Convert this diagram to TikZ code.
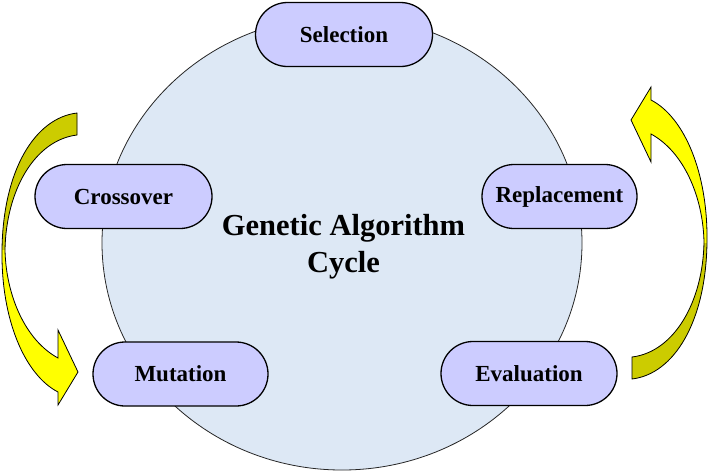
\documentclass[tikz,border=0pt]{standalone}
\usepackage{fontspec}
\usetikzlibrary{shapes.geometric}
\setmainfont{Liberation Serif}
\definecolor{circfill}{HTML}{DDE8F5}
\definecolor{boxfill}{HTML}{CCCCFF}
\definecolor{arrdark}{HTML}{CCCC00}
\definecolor{arrbright}{HTML}{FFFF00}
\begin{document}
\begin{tikzpicture}[x=1pt,y=-1pt,
  stagebox/.style={draw=black,line width=1.3pt,fill=boxfill,rounded corners=32pt,
    minimum height=64pt,inner sep=0pt,font=\bfseries\fontsize{23}{27}\selectfont},
  arrowline/.style={draw=black,line width=0.8pt,line join=miter}]
\useasboundingbox (0,0) rectangle (709,472);
% big ellipse
\node[draw=black!85,line width=0.8pt,fill=circfill,ellipse,minimum width=480pt,minimum height=454pt,inner sep=0pt] (cyc) at (342,243) {};
\node[align=center,font=\bfseries\fontsize{30.5}{37}\selectfont] (title) at (343.5,246.5) {Genetic Algorithm\\Cycle};
% stage boxes
\node[stagebox,minimum width=177pt] (sel) at (344,34.5) {Selection};
\node[stagebox,minimum width=155pt] (rep) at (559.5,196.5) {Replacement};
\node[stagebox,minimum width=177pt] (cro) at (123.5,196.5) {Crossover};
\node[stagebox,minimum width=176pt] (eva) at (529,373.5) {Evaluation};
\node[stagebox,minimum width=175pt] (mut) at (180.5,374) {Mutation};
% curved arrows
\def\arrowpath{(77,113) .. controls (35,118) and (3,170) .. (2,250)
   .. controls (1,320) and (25,375) .. (58,392)
   -- (58,405) -- (78,372) -- (58,330) -- (58,358)
   .. controls (25,340) and (6,295) .. (5,250)
   .. controls (6,190) and (35,140) .. (77,135) -- cycle}
\foreach \rot in {0,180}{
  \begin{scope}[rotate around={\rot:(354.5,246)}]
    \fill[arrbright] \arrowpath;
    \begin{scope}
      \clip (-10,0) rectangle (120,249);
      \fill[arrdark] \arrowpath;
    \end{scope}
    \draw[arrowline] \arrowpath;
  \end{scope}
}
\end{tikzpicture}
\end{document}
